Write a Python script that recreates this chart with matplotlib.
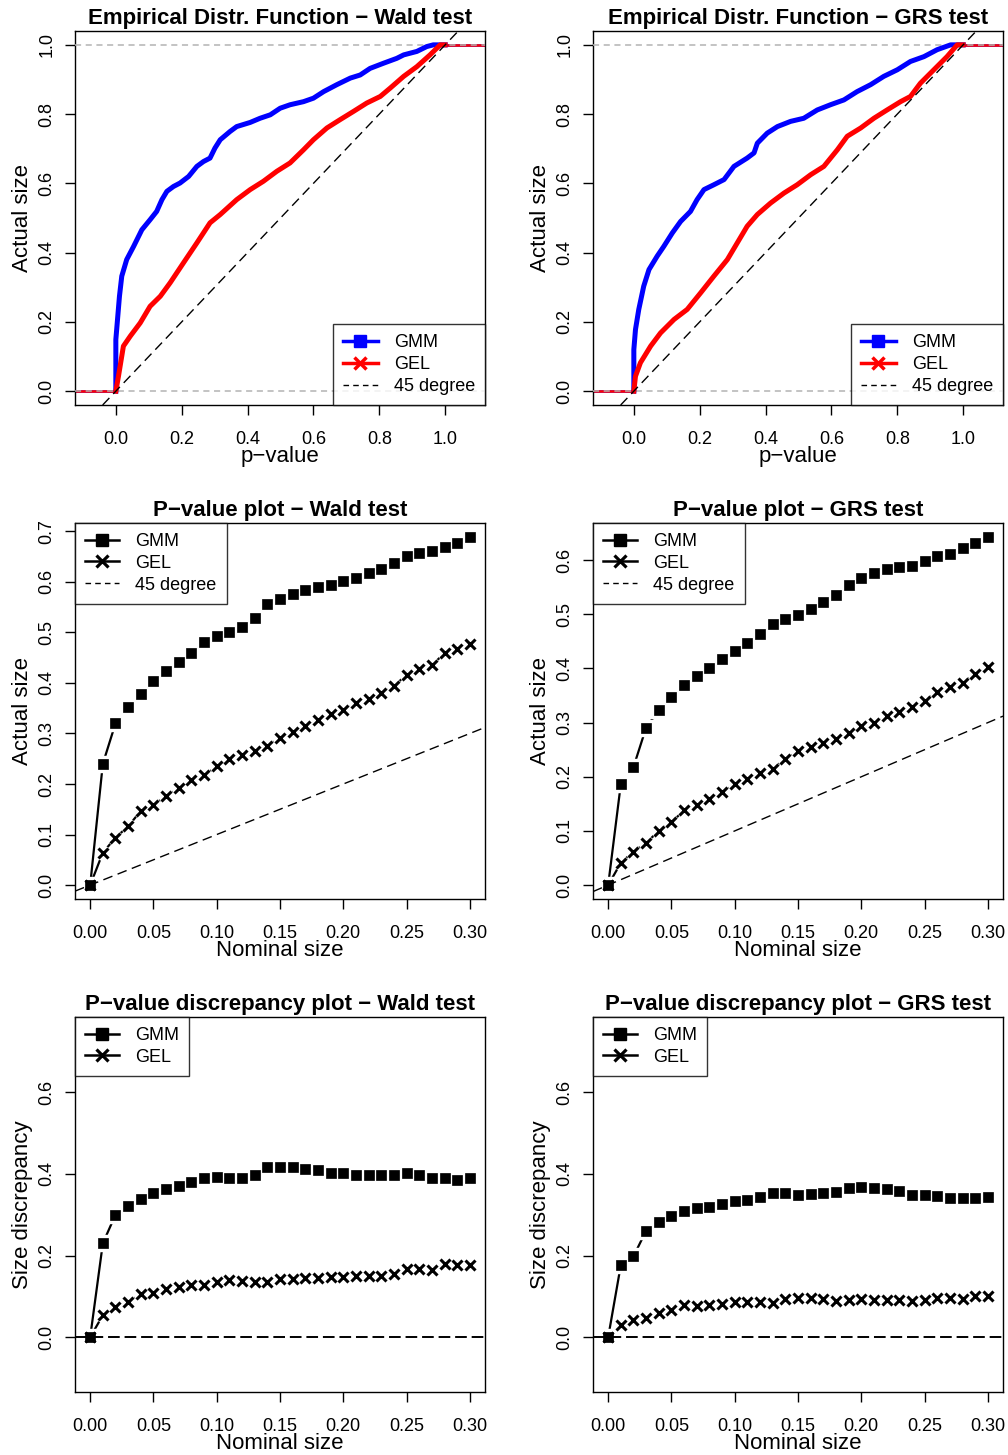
import numpy as np
import matplotlib.pyplot as plt
from matplotlib.lines import Line2D

plt.rcParams['font.family'] = ['Liberation Sans', 'DejaVu Sans']

# ---- data ----
nominal = np.round(np.arange(31) * 0.01, 2)

gmm_wald = [0.000, 0.240, 0.320, 0.352, 0.378, 0.403, 0.423, 0.441, 0.459, 0.481,
            0.492, 0.500, 0.510, 0.528, 0.556, 0.567, 0.577, 0.583, 0.590, 0.593,
            0.602, 0.608, 0.618, 0.626, 0.638, 0.651, 0.657, 0.661, 0.669, 0.676, 0.689]
gel_wald = [0.000, 0.064, 0.094, 0.116, 0.147, 0.158, 0.177, 0.192, 0.207, 0.217,
            0.235, 0.250, 0.258, 0.265, 0.276, 0.292, 0.302, 0.314, 0.326, 0.338,
            0.347, 0.361, 0.369, 0.381, 0.394, 0.416, 0.427, 0.435, 0.459, 0.467, 0.477]
gmm_grs = [0.000, 0.187, 0.218, 0.291, 0.323, 0.348, 0.369, 0.387, 0.400, 0.417,
           0.433, 0.447, 0.464, 0.482, 0.492, 0.498, 0.510, 0.523, 0.535, 0.555,
           0.567, 0.576, 0.584, 0.588, 0.589, 0.598, 0.607, 0.612, 0.622, 0.631, 0.643]
gel_grs = [0.000, 0.041, 0.062, 0.078, 0.100, 0.116, 0.138, 0.147, 0.159, 0.171,
           0.187, 0.196, 0.207, 0.215, 0.233, 0.247, 0.255, 0.263, 0.269, 0.280,
           0.294, 0.300, 0.312, 0.320, 0.329, 0.340, 0.357, 0.365, 0.374, 0.390, 0.402]

# empirical distribution functions (p-value, proportion)
ecdf_gmm_wald_x = [0.000, 0.000, 0.011, 0.018, 0.033, 0.054, 0.079, 0.104, 0.124, 0.140,
                   0.155, 0.175, 0.195, 0.221, 0.246, 0.266, 0.286, 0.301, 0.317, 0.347,
                   0.367, 0.408, 0.438, 0.469, 0.499, 0.529, 0.570, 0.600, 0.631, 0.671,
                   0.712, 0.742, 0.772, 0.813, 0.853, 0.874, 0.914, 0.944, 0.964, 1.000]
ecdf_gmm_wald_y = [0.000, 0.149, 0.274, 0.332, 0.380, 0.418, 0.466, 0.495, 0.519, 0.553,
                   0.577, 0.591, 0.601, 0.620, 0.649, 0.663, 0.673, 0.702, 0.726, 0.750,
                   0.764, 0.776, 0.788, 0.798, 0.817, 0.827, 0.836, 0.846, 0.865, 0.885,
                   0.904, 0.913, 0.932, 0.947, 0.961, 0.971, 0.981, 0.995, 1.000, 1.000]
ecdf_gel_wald_x = [0.000, 0.008, 0.023, 0.044, 0.074, 0.104, 0.135, 0.165, 0.205, 0.246,
                   0.286, 0.317, 0.367, 0.408, 0.448, 0.489, 0.529, 0.570, 0.600, 0.641,
                   0.681, 0.722, 0.762, 0.803, 0.833, 0.874, 0.914, 0.954, 0.985, 1.000]
ecdf_gel_wald_y = [0.000, 0.043, 0.130, 0.159, 0.197, 0.245, 0.274, 0.313, 0.370, 0.428,
                   0.486, 0.510, 0.553, 0.582, 0.606, 0.635, 0.659, 0.697, 0.726, 0.760,
                   0.784, 0.808, 0.832, 0.851, 0.875, 0.909, 0.937, 0.971, 1.000, 1.000]
ecdf_gmm_grs_x = [0.000, 0.000, 0.005, 0.015, 0.030, 0.046, 0.071, 0.091, 0.117, 0.142,
                  0.172, 0.192, 0.213, 0.243, 0.274, 0.304, 0.344, 0.365, 0.375, 0.405,
                  0.436, 0.476, 0.516, 0.557, 0.597, 0.638, 0.678, 0.719, 0.759, 0.800,
                  0.840, 0.881, 0.921, 0.962, 1.000]
ecdf_gmm_grs_y = [0.000, 0.120, 0.178, 0.236, 0.303, 0.351, 0.390, 0.418, 0.457, 0.490,
                  0.519, 0.553, 0.582, 0.596, 0.611, 0.649, 0.673, 0.688, 0.716, 0.745,
                  0.764, 0.779, 0.788, 0.812, 0.827, 0.841, 0.865, 0.885, 0.909, 0.928,
                  0.952, 0.966, 0.986, 1.000, 1.000]
ecdf_gel_grs_x = [0.000, 0.005, 0.020, 0.051, 0.081, 0.122, 0.162, 0.203, 0.243, 0.284,
                  0.314, 0.344, 0.375, 0.415, 0.456, 0.496, 0.537, 0.577, 0.618, 0.648,
                  0.689, 0.729, 0.769, 0.810, 0.840, 0.870, 0.911, 0.951, 0.982, 1.000]
ecdf_gel_grs_y = [0.000, 0.043, 0.082, 0.130, 0.168, 0.207, 0.236, 0.284, 0.332, 0.380,
                  0.428, 0.476, 0.510, 0.543, 0.572, 0.596, 0.625, 0.649, 0.697, 0.736,
                  0.760, 0.788, 0.812, 0.836, 0.851, 0.889, 0.928, 0.966, 1.000, 1.000]

W, H = 1008, 1455
fig = plt.figure(figsize=(W / 100, H / 100), dpi=100)


def add_ax(left, top, right, bottom):
    return fig.add_axes([left / W, 1 - bottom / H, (right - left) / W, (bottom - top) / H])


def style(ax, xticks, xfmt, yticks, yfmt, title, xlabel, ylabel):
    ax.set_xticks(xticks)
    ax.set_xticklabels([xfmt % v for v in xticks])
    ax.set_yticks(yticks)
    ax.set_yticklabels([yfmt % v for v in yticks], rotation=90, va='center')
    ax.tick_params(direction='out', length=7, width=1, labelsize=13)
    ax.tick_params(axis='x', pad=11.5)
    ax.tick_params(axis='y', pad=7)
    for s in ax.spines.values():
        s.set_linewidth(1)
    ax.set_title(title, fontsize=16, fontweight='bold', pad=5)
    ax.set_xlabel(xlabel, fontsize=16, labelpad=-1)
    ax.set_ylabel(ylabel, fontsize=16, labelpad=4)


def leg(ax, handles, labels, loc):
    lg = ax.legend(handles, labels, loc=loc, fontsize=13, frameon=True, fancybox=False,
                   borderaxespad=0, handlelength=1.9, handletextpad=0.9,
                   labelspacing=0.27, borderpad=0.55)
    lg.get_frame().set_edgecolor('black')
    lg.get_frame().set_linewidth(1)
    return lg


def ecdf_panel(ax, gx, gy, ex, ey, title):
    xl = (-0.124, 1.121)
    ax.set_xlim(xl)
    ax.set_ylim(-0.04, 1.04)
    for xs, ys, c in [(gx, gy, 'blue'), (ex, ey, 'red')]:
        ax.hlines(ys[0], xl[0], xs[0], color=c, lw=1.8, zorder=2)
        ax.hlines(ys[-1], xs[-1], xl[1], color=c, lw=1.8, zorder=2)
    for h in (0, 1):
        ax.axhline(h, color='#b3b3b3', lw=1.1, ls=(0, (4, 3)), zorder=3)
    ax.plot(gx, gy, color='blue', lw=3.6, zorder=4)
    ax.plot(ex, ey, color='red', lw=3.6, zorder=5)
    ax.axline((0, 0), slope=1, color='black', lw=1.0, ls=(0, (7, 4)), zorder=6)
    style(ax, [0, 0.2, 0.4, 0.6, 0.8, 1.0], '%.1f', [0, 0.2, 0.4, 0.6, 0.8, 1.0], '%.1f',
          title, 'p\u2212value', 'Actual size')
    handles = [Line2D([], [], color='blue', lw=2.5, marker='s', ms=8),
               Line2D([], [], color='red', lw=2.5, marker='x', ms=9, mew=2.5),
               Line2D([], [], color='black', lw=1.0, ls=(0, (4, 3)))]
    leg(ax, handles, ['GMM', 'GEL', '45 degree'], 'lower right')


def series(ax, x, y, marker):
    ax.plot(x, y, color='black', lw=1.6, zorder=2)
    if marker == 's':
        ax.plot(x, y, ls='none', marker='s', ms=11, color='white', zorder=3)
        ax.plot(x, y, ls='none', marker='s', ms=7, color='black', mew=0.5, zorder=5)
    else:
        ax.plot(x, y, ls='none', marker='o', ms=10, color='white', zorder=3)
        ax.plot(x, y, ls='none', marker='x', ms=7, color='black', mew=2.2, zorder=5)


def size_panel(ax, gmm, gel, title, ylim, yticks, ylabel, disc):
    ax.set_xlim(-0.012, 0.312)
    ax.set_ylim(ylim)
    series(ax, nominal, gmm, 's')
    series(ax, nominal, gel, 'x')
    if disc:
        ax.axhline(0, color='black', lw=1.4, ls=(0, (6, 2.5)), zorder=4)
    else:
        ax.axline((0, 0), slope=1, color='black', lw=1.0, ls=(0, (7, 4)), zorder=4)
    style(ax, [0, 0.05, 0.1, 0.15, 0.2, 0.25, 0.3], '%.2f', yticks, '%.1f',
          title, 'Nominal size', ylabel)
    handles = [Line2D([], [], color='black', lw=1.8, marker='s', ms=8),
               Line2D([], [], color='black', lw=1.8, marker='x', ms=9, mew=2.3)]
    labels = ['GMM', 'GEL']
    if not disc:
        handles.append(Line2D([], [], color='black', lw=1.0, ls=(0, (4, 3))))
        labels.append('45 degree')
    leg(ax, handles, labels, 'upper left')


def r_lim(vals):
    lo, hi = min(vals), max(vals)
    d = 0.04 * (hi - lo)
    return (lo - d, hi + d)


ax = add_ax(75, 31, 485, 405)
ecdf_panel(ax, ecdf_gmm_wald_x, ecdf_gmm_wald_y, ecdf_gel_wald_x, ecdf_gel_wald_y,
           'Empirical Distr. Function \u2212 Wald test')
ax = add_ax(593, 31, 1003, 405)
ecdf_panel(ax, ecdf_gmm_grs_x, ecdf_gmm_grs_y, ecdf_gel_grs_x, ecdf_gel_grs_y,
           'Empirical Distr. Function \u2212 GRS test')

ax = add_ax(75, 523, 485, 899)
size_panel(ax, gmm_wald, gel_wald, 'P\u2212value plot \u2212 Wald test',
           r_lim(gmm_wald), [0, 0.1, 0.2, 0.3, 0.4, 0.5, 0.6, 0.7], 'Actual size', False)
ax = add_ax(593, 523, 1003, 899)
size_panel(ax, gmm_grs, gel_grs, 'P\u2212value plot \u2212 GRS test',
           r_lim(gmm_grs), [0, 0.1, 0.2, 0.3, 0.4, 0.5, 0.6], 'Actual size', False)

disc_lim = r_lim([-0.1, 0.75])
ax = add_ax(75, 1017, 485, 1392)
size_panel(ax, np.array(gmm_wald) - nominal, np.array(gel_wald) - nominal,
           'P\u2212value discrepancy plot \u2212 Wald test',
           disc_lim, [0, 0.2, 0.4, 0.6], 'Size discrepancy', True)
ax = add_ax(593, 1017, 1003, 1392)
size_panel(ax, np.array(gmm_grs) - nominal, np.array(gel_grs) - nominal,
           'P\u2212value discrepancy plot \u2212 GRS test',
           disc_lim, [0, 0.2, 0.4, 0.6], 'Size discrepancy', True)

fig.savefig('out.png', dpi=100)
